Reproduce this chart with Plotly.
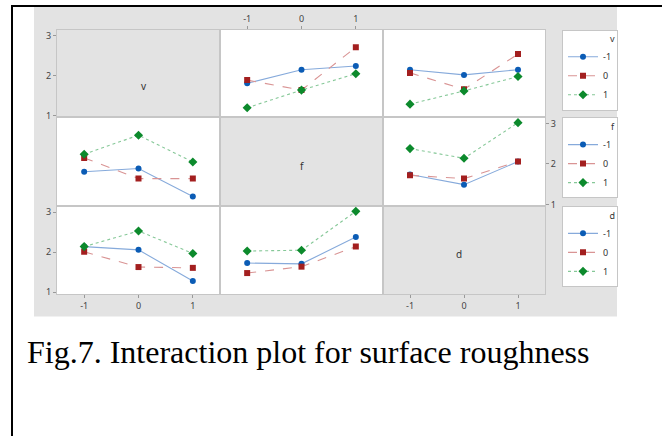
import plotly.graph_objects as go

W, H = 662, 436

def px(x):
    return x / W

def py(y):
    return 1 - y / H

# ---------------- data ----------------
factors = ["v", "f", "d"]
levels = [-1, 0, 1]
level_labels = ["-1", "0", "1"]
y_ticks = [1, 2, 3]

# each list: series for row-factor level -1, 0, 1 ; x = column factor level -1, 0, 1
v_by_f = [[1.81, 2.15, 2.24], [1.89, 1.64, 2.71], [1.20, 1.64, 2.05]]
v_by_d = [[2.15, 2.02, 2.15], [2.07, 1.66, 2.54], [1.29, 1.62, 1.98]]
f_by_v = [[1.81, 1.89, 1.20], [2.15, 1.64, 1.64], [2.24, 2.71, 2.05]]
f_by_d = [[1.74, 1.49, 2.06], [1.72, 1.64, 2.06], [2.38, 2.14, 3.02]]
d_by_v = [[2.14, 2.06, 1.28], [2.01, 1.63, 1.61], [2.14, 2.53, 1.97]]
d_by_f = [[1.73, 1.71, 2.38], [1.48, 1.64, 2.14], [2.03, 2.05, 3.02]]

caption = "Fig.7. Interaction plot for surface roughness"

panels = {
    (0, 1): v_by_f, (0, 2): v_by_d,
    (1, 0): f_by_v, (1, 2): f_by_d,
    (2, 0): d_by_v, (2, 1): d_by_f,
}

# ---------------- styles ----------------
styles = [
    dict(line="#86aadb", marker="#0b5cb5", symbol="circle", dash="solid", size=6),
    dict(line="#d99494", marker="#a31f1f", symbol="square", dash="dash", size=6),
    dict(line="#86c898", marker="#0c8a2c", symbol="diamond", dash="dot", size=7),
]

col_px = [(57, 220), (220, 383), (383, 545)]
row_px = [(29, 118), (118, 208), (208, 297)]
legend_names = ["legend", "legend2", "legend3"]
legend_tops = [29, 118, 208]

tick_font = dict(family="Noto Sans", size=9, color="#444")
border = "#c6c6c6"
bg_gray = "#e3e3e3"

fig = go.Figure()
layout = dict(
    width=W, height=H,
    margin=dict(l=0, r=0, t=0, b=0),
    paper_bgcolor="white",
    plot_bgcolor="rgba(0,0,0,0)",
    hovermode=False,
    shapes=[], annotations=[],
)

# outer gray background
layout["shapes"].append(dict(type="rect", xref="paper", yref="paper",
                             x0=px(34), x1=px(617), y0=py(320), y1=py(6),
                             fillcolor=bg_gray, line=dict(width=0), layer="below"))

for r in range(3):
    for c in range(3):
        k = r * 3 + c + 1
        xn = "x" if k == 1 else f"x{k}"
        yn = "y" if k == 1 else f"y{k}"
        x0, x1 = col_px[c]
        y0, y1 = row_px[r]
        xa = dict(domain=[px(x0), px(x1)], anchor=yn, range=[-1.5, 1.5], visible=True,
                  tickvals=levels, ticktext=level_labels, showgrid=False, zeroline=False,
                  showline=True, mirror=True, linecolor=border, linewidth=1,
                  tickfont=tick_font, ticks="", showticklabels=False,
                  ticklen=3, tickcolor="#999", fixedrange=True)
        ya = dict(domain=[py(y1), py(y0)], anchor=xn, range=[0.96, 3.15], visible=True,
                  tickvals=y_ticks, showgrid=False, zeroline=False,
                  showline=True, mirror=True, linecolor=border, linewidth=1,
                  tickfont=tick_font, ticks="", showticklabels=False,
                  ticklen=3, tickcolor="#999", fixedrange=True)
        if (r, c) == (0, 1):
            xa.update(side="top", showticklabels=True, ticks="outside")
        if r == 2 and c in (0, 2):
            xa.update(showticklabels=True, ticks="outside")
        if (r, c) in [(0, 0), (2, 0)]:
            ya.update(showticklabels=True, ticks="outside")
        if (r, c) == (1, 2):
            ya.update(side="right", showticklabels=True, ticks="outside")
        layout["xaxis" if k == 1 else f"xaxis{k}"] = xa
        layout["yaxis" if k == 1 else f"yaxis{k}"] = ya

        if r != c:
            layout["shapes"].append(dict(type="rect", xref="paper", yref="paper",
                                         x0=px(x0), x1=px(x1), y0=py(y1), y1=py(y0),
                                         fillcolor="white", line=dict(width=0), layer="below"))
            series = panels[(r, c)]
            first_in_row = c == (1 if r == 0 else 0)
            for i, vals in enumerate(series):
                s = styles[i]
                fig.add_trace(go.Scatter(
                    x=levels, y=vals, xaxis=xn, yaxis=yn,
                    mode="lines+markers", name=level_labels[i],
                    legend=legend_names[r], showlegend=first_in_row,
                    line=dict(color=s["line"], width=1.1, dash=s["dash"]),
                    marker=dict(color=s["marker"], symbol=s["symbol"], size=s["size"],
                                line=dict(width=0)),
                ))
        else:
            # empty trace so the diagonal subplot (frame + ticks) is drawn
            fig.add_trace(go.Scatter(x=[None], y=[None], xaxis=xn, yaxis=yn,
                                     mode="markers", showlegend=False,
                                     legend=legend_names[r]))
            layout["annotations"].append(dict(
                text=factors[r], xref="paper", yref="paper",
                x=px((x0 + x1) / 2), y=py((y0 + y1) / 2 + 4),
                showarrow=False, font=dict(family="Noto Sans", size=10, color="#333")))

for r in range(3):
    layout[legend_names[r]] = dict(
        x=px(562), y=py(legend_tops[r]), xanchor="left", yanchor="top",
        bgcolor="white", bordercolor=border, borderwidth=1,
        font=dict(family="Noto Sans", size=9, color="#333"),
        title=dict(text=factors[r], side="top right", font=dict(family="Noto Sans", size=9, color="#333")),
        itemwidth=30, tracegroupgap=0, itemclick=False, itemdoubleclick=False,
    )

# caption
layout["annotations"].append(dict(
    text=caption, xref="paper", yref="paper", x=px(308), y=py(356),
    xanchor="center", yanchor="middle", showarrow=False,
    font=dict(family="Liberation Serif", size=32, color="black")))

# black frame (only top and left edges fall inside the picture)
layout["shapes"].append(dict(type="rect", xref="paper", yref="paper",
                             x0=px(12), x1=px(700), y0=py(480), y1=py(5),
                             fillcolor="rgba(0,0,0,0)",
                             line=dict(color="black", width=2)))

fig.update_layout(**layout)
fig.write_html(
    "out.html",
    config={"displayModeBar": False},
    post_script="document.body.style.margin='0';document.body.style.overflow='hidden';",
)
